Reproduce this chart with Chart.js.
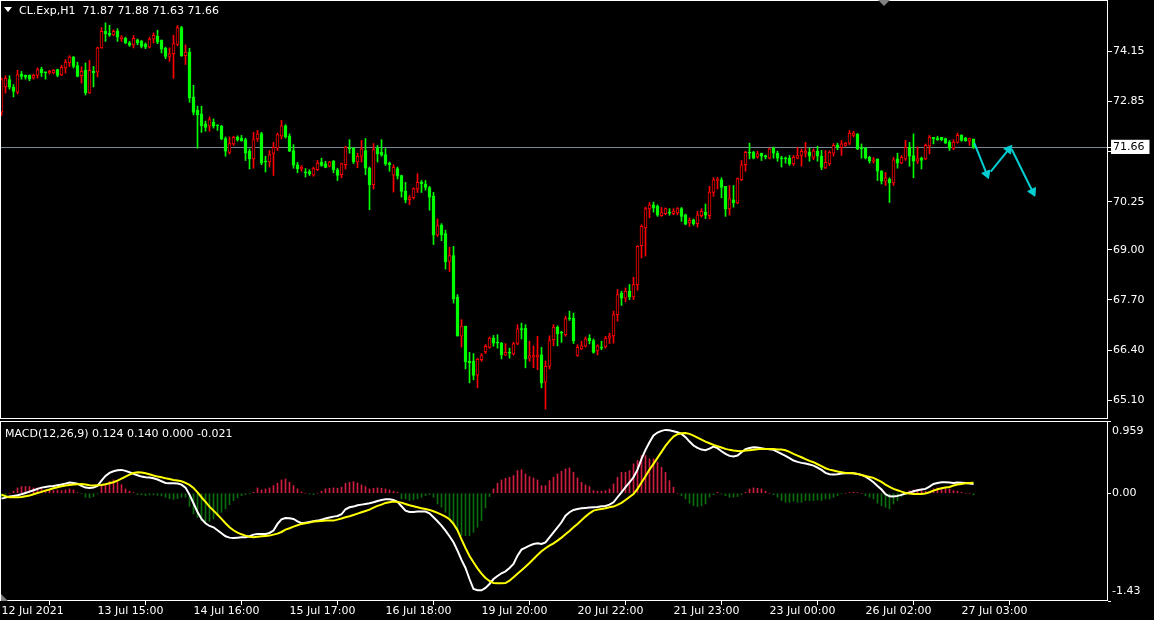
<!DOCTYPE html>
<html><head><meta charset="utf-8">
<script src="https://cdn.jsdelivr.net/npm/chart.js@4.4.1/dist/chart.umd.min.js"></script>
<style>
html,body{margin:0;padding:0;background:#000;width:1154px;height:620px;overflow:hidden;font-family:"DejaVu Sans",sans-serif;}
canvas{position:absolute;left:0;}
#cA{top:0;}
#cB{top:420px;}
.hdr{position:absolute;color:#fff;font-size:11px;line-height:13px;white-space:pre;}
.tri{position:absolute;width:0;height:0;}
</style></head><body>
<canvas id="cA" width="1154" height="419"></canvas>
<canvas id="cB" width="1154" height="200"></canvas>
<div class="tri" style="left:4px;top:7px;border-left:4px solid transparent;border-right:4px solid transparent;border-top:5px solid #fff;"></div>
<div class="hdr" style="left:19px;top:4px;">CL.Exp,H1  71.87 71.88 71.63 71.66</div>
<div class="hdr" style="left:5px;top:427px;">MACD(12,26,9) 0.124 0.140 0.000 -0.021</div>
<div class="tri" style="left:878px;top:0px;border-left:6px solid transparent;border-right:6px solid transparent;border-top:6px solid #808080;"></div>
<div class="tri" style="left:1px;top:594px;border-left:0 solid transparent;border-right:7px solid transparent;border-bottom:7px solid #808080;"></div>
<script>
// ---- data (H1 candles, CL.Exp) ----
const timeLabels = ['12 Jul 2021','13 Jul 15:00','14 Jul 16:00','15 Jul 17:00','16 Jul 18:00','19 Jul 20:00','20 Jul 22:00','21 Jul 23:00','23 Jul 00:00','26 Jul 02:00','27 Jul 03:00'];
const barsPerLabel = 24;
const priceTicks = [74.15,72.85,71.55,70.25,69.00,67.70,66.40,65.10];
const macdTicks = [0.959,0,-1.43];

const opens = [72.58,73.23,73.42,73.22,73.09,73.56,73.53,73.53,73.46,73.53,
73.69,73.62,73.59,73.59,73.68,73.54,73.72,73.85,74.00,73.78,
73.52,73.66,73.07,73.63,73.62,74.24,74.67,74.62,74.58,74.67,
74.48,74.49,74.37,74.32,74.45,74.41,74.34,74.26,74.47,74.54,
74.44,74.23,74.02,74.09,74.33,74.77,74.04,74.13,72.96,72.62,
72.53,72.27,72.21,72.31,72.23,72.21,71.89,71.53,71.75,71.93,
71.90,71.86,71.56,71.36,71.88,72.02,71.30,71.28,71.50,71.64,
71.96,72.22,71.95,71.58,71.21,71.10,71.02,71.03,70.94,71.08,
71.28,71.23,71.17,71.30,71.08,70.95,71.21,71.64,71.64,71.28,
71.43,71.58,71.12,70.69,71.64,71.53,71.47,71.25,70.94,71.11,
70.93,70.52,70.30,70.35,70.58,70.76,70.71,70.62,70.39,69.38,
69.64,69.42,68.70,68.85,67.77,66.76,67.02,66.11,66.11,65.75,
66.15,66.35,66.47,66.71,66.60,66.58,66.27,66.34,66.30,66.57,
66.96,66.97,66.19,66.22,66.22,66.28,65.57,65.98,66.67,66.99,
66.86,66.80,67.23,67.23,66.26,66.43,66.50,66.71,66.65,66.38,
66.47,66.48,66.71,66.77,67.32,67.88,67.75,67.93,67.78,68.10,
69.11,69.57,70.06,70.17,70.13,69.89,69.94,69.97,69.94,69.96,
70.07,69.91,69.70,69.78,69.68,69.89,69.98,69.89,70.49,70.80,
70.82,70.65,70.06,70.30,70.22,70.82,71.21,71.54,71.53,71.41,
71.51,71.45,71.38,71.64,71.51,71.38,71.38,71.38,71.23,71.38,
71.45,71.51,71.54,71.40,71.56,71.43,71.13,71.23,71.51,71.71,
71.66,71.71,71.77,71.97,72.00,71.63,71.64,71.40,71.30,71.36,
71.04,70.78,70.84,70.74,71.36,71.25,71.36,71.66,71.45,71.30,
71.38,71.36,71.70,71.92,71.90,71.92,71.89,71.79,71.64,71.79,
71.97,71.90,71.82,71.87];
const highs = [73.46,73.52,73.52,73.29,73.66,73.63,73.54,73.54,73.56,73.72,
73.74,73.62,73.66,73.68,73.69,73.79,73.94,74.04,74.02,73.87,
73.75,73.85,73.92,73.76,74.26,74.77,74.89,74.83,74.71,74.74,
74.56,74.52,74.41,74.56,74.47,74.44,74.37,74.52,74.63,74.70,
74.45,74.26,74.24,74.57,74.82,74.80,74.32,74.23,73.27,72.73,
72.73,72.34,72.45,72.40,72.24,72.23,71.93,71.93,71.95,71.96,
71.97,71.90,71.62,72.05,72.10,72.05,71.43,71.58,71.79,72.03,
72.36,72.25,72.01,71.73,71.27,71.19,71.11,71.08,71.15,71.32,
71.38,71.30,71.30,71.32,71.12,71.25,71.69,71.86,71.66,71.51,
71.84,71.89,71.15,71.76,71.71,71.86,71.63,71.28,71.21,71.15,
70.94,70.75,70.41,70.61,70.98,70.80,70.80,70.65,70.49,69.80,
69.68,69.51,69.07,69.09,67.84,67.19,67.02,66.34,66.31,66.19,
66.31,66.54,66.74,66.78,66.80,66.60,66.57,66.45,66.60,67.06,
67.10,67.06,66.63,66.51,66.76,66.47,66.12,66.77,67.06,67.03,
66.89,67.28,67.41,67.36,66.54,66.63,66.74,66.80,66.69,66.54,
66.63,66.76,66.84,67.41,67.97,67.93,68.01,68.10,68.29,69.11,
69.65,70.11,70.23,70.24,70.17,70.10,70.09,70.07,70.07,70.10,
70.10,69.93,69.83,69.80,70.00,70.07,70.19,70.65,70.87,70.88,
70.87,70.65,70.67,70.67,70.87,71.32,71.56,71.77,71.56,71.56,
71.51,71.46,71.64,71.67,71.56,71.43,71.41,71.45,71.45,71.66,
71.62,71.79,71.64,71.62,71.69,71.58,71.58,71.57,71.76,71.77,
71.84,71.79,72.10,72.08,72.02,71.75,71.66,71.43,71.40,71.36,
71.06,71.01,70.87,71.40,71.51,71.45,71.84,71.79,72.01,71.67,
71.41,71.75,71.97,71.92,71.95,71.92,71.90,71.84,71.86,72.03,
71.99,71.92,71.90,71.88];
const lows = [72.49,73.07,73.17,72.97,73.05,73.43,73.43,73.39,73.43,73.46,
73.50,73.43,73.56,73.57,73.49,73.52,73.59,73.76,73.72,73.49,
73.33,73.02,73.06,73.23,73.49,74.23,74.41,74.54,74.56,74.41,
74.41,74.35,74.28,74.24,74.32,74.24,74.22,74.24,74.37,74.35,
74.11,73.96,73.89,73.45,74.30,74.02,73.81,72.83,72.50,71.64,
72.05,72.08,72.08,72.16,72.10,71.86,71.43,71.49,71.71,71.82,
71.82,71.32,71.10,71.12,71.82,71.21,71.02,71.15,70.93,71.58,
71.88,71.90,71.55,71.12,71.00,71.04,70.89,70.93,70.91,71.06,
71.17,71.13,71.15,71.00,70.80,70.87,71.10,71.51,71.24,71.13,
71.28,70.95,70.04,70.58,71.28,71.43,71.19,71.04,70.50,70.84,
70.37,70.22,70.17,70.32,70.49,70.49,70.55,70.03,69.14,69.35,
69.24,68.50,68.44,67.62,66.76,66.48,65.91,65.55,65.63,65.42,
66.11,66.31,66.45,66.50,66.45,66.17,66.26,66.19,66.27,66.54,
66.69,65.94,66.11,65.94,65.89,65.42,64.87,65.91,66.51,66.51,
66.60,66.76,67.17,66.57,66.24,66.41,66.48,66.56,66.32,66.27,
66.41,66.45,66.57,66.58,67.15,67.56,67.65,67.71,67.71,67.95,
68.79,68.84,69.83,69.98,69.87,69.87,69.91,69.90,69.91,69.91,
69.74,69.65,69.61,69.64,69.59,69.85,69.81,69.80,70.39,70.58,
70.35,69.87,69.90,70.11,70.20,70.80,71.04,71.36,71.36,71.38,
71.32,71.36,71.36,71.38,71.30,71.15,71.25,71.19,71.19,71.36,
71.17,71.41,71.30,71.34,71.30,71.08,71.11,71.19,71.43,71.60,
71.45,71.69,71.73,71.93,71.60,71.38,71.36,71.25,71.25,70.80,
70.71,70.67,70.23,70.67,71.12,71.24,71.32,71.17,70.87,71.24,
71.10,71.34,71.49,71.75,71.84,71.83,71.76,71.58,71.60,71.77,
71.82,71.82,71.71,71.63];
const closes = [73.42,73.45,73.22,73.11,73.55,73.50,73.48,73.43,73.53,73.68,
73.59,73.59,73.63,73.66,73.53,73.74,73.87,74.00,73.76,73.50,
73.63,73.07,73.66,73.59,74.24,74.67,74.61,74.57,74.67,74.52,
74.52,74.37,74.31,74.49,74.37,74.28,74.26,74.47,74.57,74.39,
74.21,74.02,74.09,74.35,74.77,74.04,74.13,72.94,72.57,72.51,
72.22,72.18,72.38,72.21,72.22,71.88,71.56,71.76,71.92,71.86,
71.83,71.51,71.36,71.86,72.01,71.25,71.28,71.47,71.66,71.99,
72.22,71.93,71.56,71.20,71.10,71.15,71.00,70.97,71.11,71.25,
71.19,71.14,71.28,71.08,70.93,71.24,71.67,71.62,71.28,71.43,
71.62,71.12,70.69,71.60,71.49,71.46,71.23,71.21,71.14,70.91,
70.52,70.29,70.36,70.59,70.75,70.72,70.62,70.37,69.38,69.63,
69.39,68.69,68.85,67.73,66.77,67.02,66.09,66.07,65.74,66.17,
66.26,66.50,66.71,66.58,66.58,66.28,66.34,66.32,66.57,66.95,
66.93,66.17,66.26,66.26,66.28,65.55,65.98,66.65,67.00,66.82,
66.84,67.22,67.21,66.64,66.47,66.51,66.69,66.64,66.34,66.51,
66.45,66.71,66.77,67.32,67.84,67.75,67.93,67.78,68.10,69.09,
69.61,70.07,70.17,70.09,69.90,69.97,70.07,69.95,70.01,70.07,
69.87,69.67,69.77,69.68,69.91,70.00,69.90,70.50,70.82,70.84,
70.62,70.06,70.33,70.22,70.85,71.21,71.53,71.51,71.38,71.49,
71.43,71.41,71.62,71.51,71.38,71.36,71.36,71.23,71.40,71.45,
71.56,71.56,71.43,71.57,71.43,71.14,71.27,71.53,71.71,71.66,
71.75,71.77,72.03,72.03,71.62,71.62,71.38,71.31,71.34,71.04,
70.78,70.87,70.74,71.34,71.25,71.40,71.66,71.43,71.30,71.37,
71.32,71.71,71.92,71.88,71.86,71.86,71.77,71.64,71.80,71.97,
71.84,71.83,71.89,71.66];

// MACD(12,26,9): main line, signal line, histogram
const macdLine = [-0.071,-0.058,-0.044,-0.035,-0.027,-0.013,0.004,0.022,0.040,0.058,
0.075,0.084,0.093,0.097,0.106,0.115,0.128,0.142,0.137,0.128,
0.097,0.075,0.071,0.075,0.097,0.168,0.230,0.270,0.292,0.305,
0.310,0.297,0.279,0.257,0.239,0.221,0.212,0.208,0.199,0.182,
0.159,0.137,0.133,0.133,0.128,0.115,0.075,-0.018,-0.133,-0.248,
-0.341,-0.398,-0.434,-0.452,-0.491,-0.531,-0.571,-0.589,-0.593,-0.589,
-0.584,-0.584,-0.571,-0.549,-0.540,-0.540,-0.540,-0.527,-0.496,-0.407,
-0.345,-0.328,-0.332,-0.341,-0.372,-0.398,-0.390,-0.381,-0.372,-0.363,
-0.350,-0.336,-0.323,-0.310,-0.301,-0.279,-0.212,-0.186,-0.177,-0.159,
-0.151,-0.142,-0.133,-0.120,-0.102,-0.089,-0.080,-0.080,-0.089,-0.115,
-0.173,-0.230,-0.248,-0.248,-0.243,-0.243,-0.243,-0.266,-0.319,-0.372,
-0.429,-0.496,-0.571,-0.651,-0.761,-0.885,-0.992,-1.138,-1.271,-1.288,
-1.288,-1.257,-1.204,-1.138,-1.098,-1.062,-1.036,-0.992,-0.939,-0.828,
-0.748,-0.722,-0.695,-0.673,-0.664,-0.673,-0.651,-0.584,-0.518,-0.452,
-0.385,-0.297,-0.252,-0.221,-0.208,-0.199,-0.195,-0.190,-0.186,-0.182,
-0.173,-0.168,-0.151,-0.120,-0.053,0.013,0.080,0.146,0.212,0.314,
0.456,0.576,0.677,0.766,0.806,0.828,0.841,0.837,0.823,0.810,
0.788,0.744,0.686,0.633,0.602,0.580,0.571,0.593,0.620,0.598,
0.558,0.522,0.496,0.487,0.500,0.545,0.584,0.602,0.611,0.606,
0.598,0.589,0.584,0.576,0.549,0.522,0.496,0.465,0.434,0.416,
0.403,0.394,0.381,0.367,0.341,0.310,0.270,0.252,0.248,0.252,
0.261,0.266,0.266,0.266,0.257,0.243,0.221,0.186,0.146,0.097,
0.049,-0.013,-0.040,-0.044,-0.035,-0.022,-0.004,0.009,0.027,0.040,
0.049,0.058,0.089,0.124,0.137,0.146,0.146,0.142,0.137,0.142,
0.140,0.136,0.130,0.124];
const signalLine = [-0.018,-0.040,-0.053,-0.053,-0.053,-0.049,-0.040,-0.031,-0.013,0.004,
0.018,0.035,0.049,0.066,0.080,0.093,0.102,0.111,0.115,0.120,
0.124,0.115,0.106,0.102,0.106,0.111,0.120,0.133,0.146,0.168,
0.195,0.221,0.248,0.270,0.279,0.274,0.266,0.252,0.235,0.221,
0.212,0.199,0.190,0.177,0.168,0.159,0.137,0.111,0.071,0.013,
-0.053,-0.115,-0.177,-0.230,-0.283,-0.341,-0.398,-0.452,-0.491,-0.522,
-0.545,-0.562,-0.576,-0.584,-0.576,-0.571,-0.567,-0.562,-0.549,-0.536,
-0.514,-0.483,-0.465,-0.443,-0.425,-0.407,-0.398,-0.390,-0.376,-0.372,
-0.367,-0.363,-0.363,-0.363,-0.350,-0.336,-0.319,-0.305,-0.288,-0.270,
-0.252,-0.235,-0.217,-0.190,-0.168,-0.151,-0.128,-0.120,-0.111,-0.115,
-0.124,-0.142,-0.159,-0.173,-0.186,-0.199,-0.208,-0.221,-0.239,-0.261,
-0.283,-0.310,-0.345,-0.407,-0.491,-0.611,-0.726,-0.832,-0.916,-0.996,
-1.067,-1.124,-1.164,-1.191,-1.195,-1.195,-1.191,-1.160,-1.116,-1.067,
-1.023,-0.974,-0.925,-0.872,-0.819,-0.770,-0.730,-0.695,-0.664,-0.629,
-0.589,-0.545,-0.500,-0.452,-0.407,-0.359,-0.310,-0.266,-0.230,-0.217,
-0.208,-0.199,-0.186,-0.177,-0.155,-0.128,-0.089,-0.049,-0.009,0.058,
0.142,0.226,0.314,0.390,0.469,0.549,0.629,0.695,0.753,0.784,
0.797,0.801,0.788,0.766,0.739,0.713,0.686,0.664,0.642,0.624,
0.607,0.589,0.576,0.567,0.562,0.558,0.567,0.571,0.576,0.584,
0.589,0.589,0.589,0.589,0.580,0.580,0.571,0.549,0.522,0.500,
0.478,0.452,0.429,0.412,0.385,0.359,0.332,0.314,0.301,0.288,
0.279,0.270,0.270,0.266,0.257,0.243,0.230,0.217,0.204,0.177,
0.151,0.115,0.084,0.058,0.040,0.022,0.004,-0.004,-0.009,-0.009,
-0.009,-0.004,0.013,0.035,0.053,0.066,0.075,0.084,0.102,0.115,
0.124,0.132,0.137,0.140];
const histogram = [-0.053,-0.018,0,0.027,0.071,0.089,0.089,0.089,0.071,0.071,
0.058,0.044,0.044,0.035,0.044,0.035,0.044,0.058,0.044,0.009,
-0.009,-0.053,-0.062,-0.044,-0.009,0.102,0.124,0.159,0.177,0.146,
0.115,0.058,0.027,0.009,-0.018,-0.022,-0.031,-0.022,-0.018,-0.027,
-0.035,-0.053,-0.071,-0.080,-0.071,-0.053,-0.053,-0.177,-0.274,-0.319,
-0.363,-0.385,-0.372,-0.341,-0.297,-0.252,-0.208,-0.151,-0.097,-0.062,
-0.031,-0.018,-0.009,0.013,0.071,0.044,0.058,0.071,0.102,0.133,
0.177,0.190,0.146,0.102,0.058,0.018,0,-0.013,-0.018,0,
0.027,0.058,0.066,0.071,0.066,0.080,0.133,0.146,0.155,0.137,
0.111,0.089,0.058,0.066,0.071,0.066,0.058,0.044,0.027,0.013,
-0.075,-0.075,-0.097,-0.089,-0.075,-0.053,-0.031,-0.018,-0.053,-0.142,
-0.186,-0.252,-0.319,-0.407,-0.496,-0.562,-0.562,-0.562,-0.518,-0.452,
-0.363,-0.195,-0.044,0.058,0.133,0.177,0.199,0.212,0.235,0.301,
0.314,0.257,0.221,0.204,0.177,0.102,0.102,0.168,0.212,0.257,
0.292,0.323,0.336,0.279,0.204,0.146,0.111,0.089,0.035,0.027,
0.027,0.035,0.058,0.124,0.212,0.279,0.279,0.301,0.390,0.434,
0.500,0.500,0.456,0.456,0.412,0.345,0.279,0.168,0.080,0,
-0.031,-0.075,-0.133,-0.164,-0.177,-0.164,-0.142,-0.053,-0.018,0.013,
-0.009,-0.031,-0.053,-0.053,-0.044,-0.018,0.013,0.058,0.071,0.066,
0.058,0.027,0,-0.018,-0.053,-0.097,-0.120,-0.120,-0.106,-0.120,
-0.120,-0.097,-0.097,-0.097,-0.089,-0.097,-0.075,-0.075,-0.053,-0.031,
-0.009,0,0.009,0.013,0.009,0,-0.031,-0.053,-0.075,-0.133,
-0.164,-0.186,-0.208,-0.142,-0.097,-0.044,-0.018,0.035,0.044,0.044,
0.035,0.027,0.027,0.058,0.071,0.058,0.058,0.058,0.035,0.027,
0.013,0,0,-0.021];

// user-drawn arrows: [bar index, price] start -> end
const arrows = [[243.2,71.77,246.3,70.97],[247.3,71.03,251.8,71.61],[252.55,71.61,257.8,70.51]];

// ---- view window ----
const xMin = -0.375, xMax = 276.625;
const priceMin = 64.612, priceMax = 75.484;
const macdMin = -1.43, macdMax = 0.959;
const currentPrice = closes[closes.length - 1];

const BULL = '#ff0000', BEAR = '#00ff00';
const FONT = {family: 'DejaVu Sans', size: 11};
const isUp = i => closes[i] > opens[i];

const framePlugin = {
  id: 'frame',
  afterDatasetsDraw(chart) {
    const {ctx, chartArea: a} = chart;
    ctx.save();
    ctx.strokeStyle = '#ffffff';
    ctx.lineWidth = 1;
    ctx.strokeRect(a.left + 0.5, a.top + 0.5, a.right - a.left - 1, a.bottom - a.top - 1);
    ctx.restore();
  }
};
const noPad = s => { s.paddingTop = 0; s.paddingBottom = 0; s.paddingLeft = 0; s.paddingRight = 0; };

const idx = closes.map((_, i) => i);

const arrowSets = arrows.map(a => ({
  type: 'line',
  data: [{x: a[0], y: a[1]}, {x: a[2], y: a[3]}],
  borderColor: '#00ced1',
  backgroundColor: '#00ced1',
  borderWidth: 2,
  pointStyle: 'triangle',
  pointRadius: c => c.dataIndex === 1 ? 5 : 0,
  pointBorderWidth: 1,
  pointRotation: c => {
    const d = c.dataset.data, xs = c.chart.scales.x, ys = c.chart.scales.y;
    const dx = xs.getPixelForValue(d[1].x) - xs.getPixelForValue(d[0].x);
    const dy = ys.getPixelForValue(d[1].y) - ys.getPixelForValue(d[0].y);
    return Math.atan2(dy, dx) * 180 / Math.PI + 90;
  },
  tension: 0
}));

new Chart(document.getElementById('cA'), {
  type: 'bar',
  data: {
    datasets: [
      ...arrowSets,
      {
        type: 'bar',
        data: idx.map(i => ({x: i, y: [opens[i], closes[i]]})),
        barThickness: 3,
        grouped: false,
        minBarLength: 1,
        borderWidth: 1,
        borderSkipped: false,
        backgroundColor: c => isUp(c.dataIndex) ? '#000000' : BEAR,
        borderColor: c => isUp(c.dataIndex) ? BULL : BEAR
      },
      {
        type: 'bar',
        data: idx.map(i => ({x: i, y: [lows[i], highs[i]]})),
        barThickness: 1,
        grouped: false,
        minBarLength: 1,
        borderWidth: 0,
        backgroundColor: c => isUp(c.dataIndex) ? BULL : BEAR
      }
    ]
  },
  options: {
    responsive: false, animation: false, devicePixelRatio: 1,
    layout: {padding: 0, autoPadding: false},
    plugins: {legend: {display: false}, tooltip: {enabled: false}},
    scales: {
      x: {type: 'linear', display: false, min: xMin, max: xMax, offset: false},
      y: {
        type: 'linear', position: 'right', min: priceMin, max: priceMax,
        afterFit: s => { s.width = 46; noPad(s); },
        afterBuildTicks: s => { s.ticks = [...priceTicks, currentPrice].map(v => ({value: v})); },
        border: {display: false},
        grid: {
          drawOnChartArea: true, drawTicks: true, tickLength: 4,
          color: c => (c.tick && c.tick.value === currentPrice) ? '#778899' : 'rgba(0,0,0,0)',
          tickColor: '#ffffff'
        },
        ticks: {
          autoSkip: false, padding: 1, font: FONT,
          color: c => (c.tick && c.tick.value === currentPrice) ? '#000000' : '#ffffff',
          showLabelBackdrop: c => !!(c.tick && c.tick.value === currentPrice),
          backdropColor: '#ffffff',
          backdropPadding: {top: 1, bottom: 0, left: 2, right: 5},
          callback: v => Number(v).toFixed(2)
        }
      }
    }
  },
  plugins: [framePlugin]
});

new Chart(document.getElementById('cB'), {
  type: 'bar',
  data: {
    datasets: [
      {type: 'line', data: idx.map(i => ({x: i, y: signalLine[i]})), borderColor: '#ffff00', borderWidth: 2, pointRadius: 0, tension: 0},
      {type: 'line', data: idx.map(i => ({x: i, y: macdLine[i]})), borderColor: '#ffffff', borderWidth: 2, pointRadius: 0, tension: 0},
      {
        type: 'bar',
        data: idx.map(i => ({x: i, y: histogram[i]})),
        barThickness: 1, grouped: false, borderWidth: 0,
        backgroundColor: c => histogram[c.dataIndex] >= 0 ? '#d01e40' : '#0a6e0a'
      }
    ]
  },
  options: {
    responsive: false, animation: false, devicePixelRatio: 1,
    layout: {padding: {top: 1, left: 0, right: 0, bottom: 0}, autoPadding: false},
    plugins: {legend: {display: false}, tooltip: {enabled: false}},
    scales: {
      x: {
        type: 'linear', min: xMin, max: xMax, offset: false,
        afterFit: s => { s.height = 19; noPad(s); },
        afterBuildTicks: s => { s.ticks = timeLabels.map((_, k) => ({value: k * barsPerLabel})); },
        border: {display: false},
        grid: {drawOnChartArea: false, drawTicks: true, tickLength: 4, tickColor: '#ffffff'},
        ticks: {
          autoSkip: false, maxRotation: 0, align: 'start', padding: 0, font: FONT, color: '#ffffff',
          callback: (v, i) => timeLabels[i]
        }
      },
      y: {
        type: 'linear', position: 'right', min: macdMin, max: macdMax,
        afterFit: s => { s.width = 46; noPad(s); },
        afterBuildTicks: s => { s.ticks = macdTicks.map(v => ({value: v})); },
        border: {display: false},
        grid: {drawOnChartArea: false, drawTicks: true, tickLength: 3, tickColor: '#ffffff'},
        ticks: {
          autoSkip: false, padding: 1, color: '#ffffff',
          font: {family: 'DejaVu Sans', size: 11, lineHeight: 1.8},
          callback: v => v === macdMax ? ['', String(macdMax)] : (v === macdMin ? [String(macdMin), ''] : Number(v).toFixed(2))
        }
      }
    }
  },
  plugins: [framePlugin]
});
</script>
</body></html>
